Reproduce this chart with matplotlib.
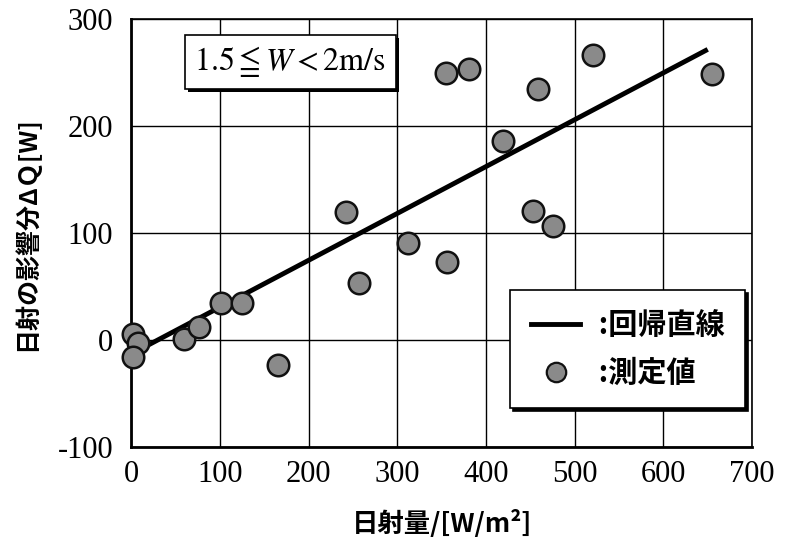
import matplotlib
matplotlib.use("Agg")
import matplotlib.pyplot as plt
from matplotlib.lines import Line2D
import matplotlib.patheffects as pe
import numpy as np

plt.rcParams['mathtext.fontset'] = 'stix'
plt.rcParams['axes.unicode_minus'] = False

# Measured points: solar radiation [W/m2] vs. radiation effect ΔQ [W]
radiation = [2, 8, 2, 60, 77, 101, 125, 165, 242, 257, 312, 356, 355, 381,
             419, 453, 459, 476, 521, 655]
delta_q = [6, -3, -16, 1, 12, 35, 35, -23, 120, 53, 91, 73, 250, 253,
           186, 121, 235, 107, 266, 249]

# Regression line ΔQ = a * radiation + b
reg_slope = 0.438
reg_intercept = -13
reg_x = [0, 650]

x_ticks = [0, 100, 200, 300, 400, 500, 600, 700]
y_ticks = [-100, 0, 100, 200, 300]

jp = ['Noto Sans CJK JP', 'DejaVu Sans']

fig = plt.figure(figsize=(7.9, 5.46), dpi=100)
ax = fig.add_axes([0.166, 0.181, 0.786, 0.784])

ax.set_xlim(0, 700)
ax.set_ylim(-100, 300)
ax.set_xticks(x_ticks)
ax.set_yticks(y_ticks)
ax.grid(True, color='black', linewidth=1.0)
ax.set_axisbelow(True)
for side, sp in ax.spines.items():
    sp.set_linewidth(2.0 if side in ('left', 'bottom') else 1.2)
ax.tick_params(axis='y', length=0, pad=13)
ax.tick_params(axis='x', length=0, pad=9)
for lab in ax.get_xticklabels() + ax.get_yticklabels():
    lab.set_fontfamily('Liberation Serif')
    lab.set_fontsize(22)

xr = np.array(reg_x, dtype=float)
ax.plot(xr, reg_slope * xr + reg_intercept, color='black', linewidth=3.5,
        solid_capstyle='butt', zorder=3)
ax.scatter(radiation, delta_q, s=240, facecolor='#8a8a8a', edgecolor='#111111',
           linewidth=1.8, zorder=4, clip_on=False)

ax.set_xlabel('日射量/[W/m²]', fontfamily=jp, fontweight='bold', fontsize=19,
              labelpad=15)
ax.set_ylabel('日射の影響分ΔＱ[W]', fontfamily=jp, fontweight='bold', fontsize=18,
              labelpad=13)

# Wind-speed condition box
cond = ax.text(0.102, 0.9, r'$\mathrm{1.5}\leqq W<\mathrm{2m/s}$',
               transform=ax.transAxes, fontsize=23, va='center', ha='left',
               bbox=dict(boxstyle='square,pad=0.3', facecolor='white',
                         edgecolor='black', linewidth=1.2), zorder=6)
cond.get_bbox_patch().set_path_effects([
    pe.SimplePatchShadow(offset=(2.5, -2.5), shadow_rgbFace='black', alpha=1.0),
    pe.Normal()])

handles = [Line2D([], [], color='black', linewidth=3.5),
           Line2D([], [], linestyle='none', marker='o', markersize=14,
                  markerfacecolor='#8a8a8a', markeredgecolor='#111111',
                  markeredgewidth=1.6)]
leg = ax.legend(handles, [' :回帰直線', ' :測定値'], loc='lower right',
                bbox_to_anchor=(0.989, 0.091), borderaxespad=0,
                prop={'family': jp, 'weight': 'bold', 'size': 21},
                frameon=True, fancybox=False, edgecolor='black',
                framealpha=1, handlelength=1.7, borderpad=0.7,
                labelspacing=0.6, handletextpad=0.4,
                shadow={'color': 'black', 'alpha': 1.0})
leg.get_frame().set_linewidth(1.2)
leg.set_zorder(7)

fig.savefig('out.png', dpi=100)
